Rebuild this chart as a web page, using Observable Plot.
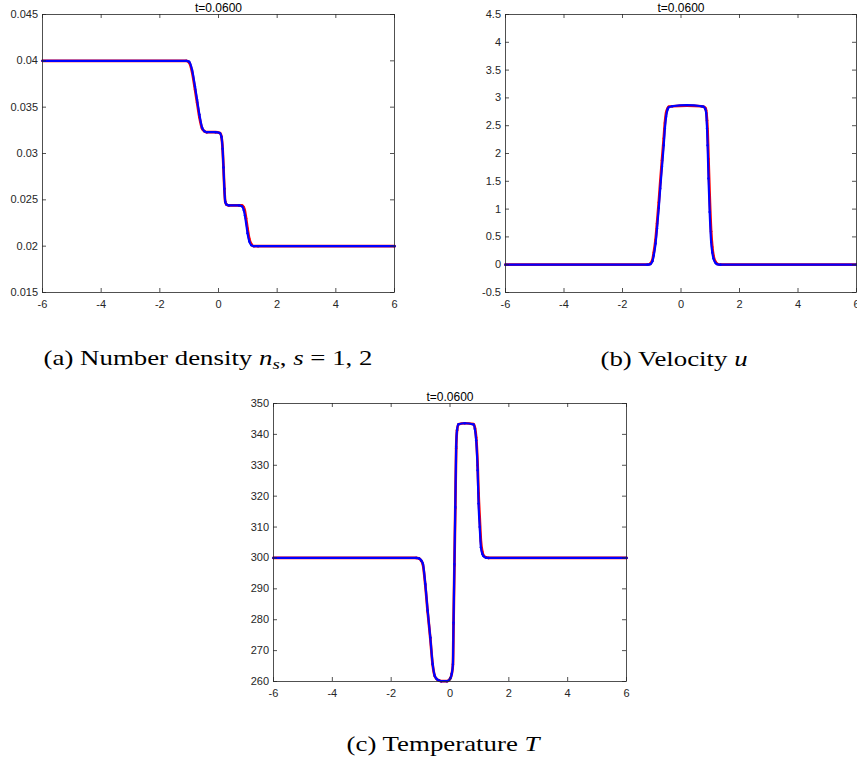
<!DOCTYPE html>
<html><head><meta charset="utf-8">
<script src="https://cdn.jsdelivr.net/npm/d3@7"></script>
<script src="https://cdn.jsdelivr.net/npm/@observablehq/plot@0.6"></script>
<style>
html,body{margin:0;padding:0;background:#fff;overflow:hidden;}
#wrap{position:relative;width:857px;height:766px;overflow:hidden;background:#fff;}
.panel{position:absolute;}
.panel svg{display:block;overflow:visible;max-width:none;}
.cap{position:absolute;font-family:"Liberation Serif","Times New Roman",serif;font-size:22px;line-height:22px;white-space:nowrap;color:#000;transform:translateX(-50%) scaleX(1.22);transform-origin:center;}
.cap sub{font-size:0.7em;vertical-align:-0.25em;line-height:0;}
</style></head><body><div id="wrap"></div>
<script>
// ---------- shared ----------
const titleText = "t=0.0600";
const xTicks = [-6, -4, -2, 0, 2, 4, 6];

// ---------- (a) number density ----------
const densX    = [-6, -1.1, -1.0, -0.9, -0.8, -0.73, -0.65, -0.56, -0.48, -0.4, -0.1, 0.05, 0.1, 0.14, 0.17, 0.2, 0.23, 0.27, 0.35, 0.7, 0.8, 0.86, 0.9, 0.94, 0.99, 1.05, 1.12, 1.2, 1.35, 6];
const densBlue = [0.0400, 0.0400, 0.0399, 0.0390, 0.0372, 0.0358, 0.0342, 0.0328, 0.0324, 0.0323, 0.0323, 0.0322, 0.0318, 0.0305, 0.0285, 0.0262, 0.0248, 0.0245, 0.0244, 0.0244, 0.0243, 0.0239, 0.0233, 0.0225, 0.0214, 0.0205, 0.0201, 0.0200, 0.0200, 0.0200];
const densRed  = [0.0400, 0.0400, 0.0398, 0.0388, 0.0369, 0.0355, 0.0339, 0.0327, 0.0324, 0.0323, 0.0323, 0.0322, 0.0318, 0.0305, 0.0285, 0.0262, 0.0248, 0.0245, 0.0244, 0.0244, 0.0244, 0.0242, 0.0238, 0.0230, 0.0219, 0.0208, 0.0202, 0.0200, 0.0200, 0.0200];
const densYTicks = [0.015, 0.02, 0.025, 0.03, 0.035, 0.04, 0.045];

// ---------- (b) velocity ----------
const velX    = [-6, -1.15, -1.05, -0.98, -0.93, -0.87, -0.82, -0.76, -0.71, -0.65, -0.59, -0.55, -0.51, -0.46, -0.42, -0.3, 0.2, 0.7, 0.77, 0.83, 0.86, 0.89, 0.91, 0.94, 0.98, 1.03, 1.07, 1.11, 1.17, 1.23, 1.35, 6];
const velBlue = [0, 0, 0.01, 0.06, 0.17, 0.38, 0.65, 1.02, 1.37, 1.76, 2.15, 2.45, 2.66, 2.79, 2.83, 2.85, 2.87, 2.85, 2.84, 2.80, 2.73, 2.45, 2.15, 1.55, 0.95, 0.41, 0.22, 0.11, 0.04, 0.01, 0, 0];
const velRed  = [0, 0, 0.02, 0.08, 0.22, 0.45, 0.74, 1.12, 1.48, 1.88, 2.27, 2.55, 2.73, 2.81, 2.84, 2.85, 2.86, 2.85, 2.84, 2.82, 2.77, 2.60, 2.40, 1.90, 1.25, 0.60, 0.32, 0.16, 0.06, 0.02, 0, 0];
const velYTicks = [-0.5, 0, 0.5, 1, 1.5, 2, 2.5, 3, 3.5, 4, 4.5];

// ---------- (c) temperature ----------
const tempX    = [-6, -1.15, -1.05, -0.98, -0.92, -0.84, -0.76, -0.67, -0.59, -0.52, -0.45, -0.39, -0.3, -0.1, 0.01, 0.06, 0.10, 0.12, 0.15, 0.18, 0.21, 0.24, 0.29, 0.5, 0.8, 0.85, 0.89, 0.94, 0.97, 1.01, 1.05, 1.10, 1.14, 1.22, 1.31, 6];
const tempBlue = [300, 300, 299.8, 299.2, 298.1, 291.6, 283.0, 274.3, 265.7, 261.9, 260.8, 260.4, 260.1, 260.1, 261.0, 262.5, 265.7, 279.0, 298.0, 316.5, 336.0, 341.5, 343.3, 343.6, 343.2, 341.5, 338.1, 328.4, 317.6, 310.0, 303.5, 301.3, 300.6, 300.1, 300, 300];
const tempRed  = [300, 300, 299.8, 299.1, 297.8, 291.2, 282.6, 274.0, 265.5, 261.8, 260.8, 260.4, 260.1, 260.1, 261.0, 262.5, 265.5, 278.5, 297.5, 316.0, 335.5, 341.3, 343.3, 343.6, 343.3, 342.0, 339.0, 330.0, 321.0, 313.0, 305.5, 302.0, 300.8, 300.2, 300, 300];
const tempYTicks = [260, 270, 280, 290, 300, 310, 320, 330, 340, 350];

const ink = "#262626";
const wrap = document.getElementById("wrap");

function panel(o) {
  const rows = o.xs.map((x, i) => ({x, b: o.blue[i], r: o.red[i]}));
  const pw = o.width - o.mL - o.mR, ph = o.height - o.mT - o.mB;
  const svg = Plot.plot({
    width: o.width, height: o.height,
    marginLeft: o.mL, marginRight: o.mR, marginTop: o.mT, marginBottom: o.mB,
    x: {domain: [-6, 6], label: null},
    y: {domain: o.yDomain, label: null},
    style: {fontFamily: "'Liberation Sans', Arial, sans-serif", fontSize: "11px", color: ink, background: "transparent", overflow: "visible"},
    marks: [
      Plot.line(rows, {x: "x", y: "r", stroke: "#ff0000", strokeWidth: 2.7, curve: "monotone-x"}),
      Plot.dot(rows, {x: "x", y: "r", r: 1.2, fill: "#ff0000"}),
      Plot.line(rows, {x: "x", y: "b", stroke: "#0000ff", strokeWidth: 2.2, curve: "monotone-x"}),
      Plot.dot(rows, {x: "x", y: "b", r: 1.2, fill: "#0000ff"}),
      Plot.frame({stroke: ink, strokeWidth: 0.8}),
      Plot.tickX(xTicks, {x: d => d, stroke: ink, strokeWidth: 0.8, insetTop: ph - 4}),
      Plot.tickX(xTicks, {x: d => d, stroke: ink, strokeWidth: 0.8, insetBottom: ph - 4}),
      Plot.tickY(o.yTicks, {y: d => d, stroke: ink, strokeWidth: 0.8, insetRight: pw - 4}),
      Plot.tickY(o.yTicks, {y: d => d, stroke: ink, strokeWidth: 0.8, insetLeft: pw - 4}),
      Plot.axisX({ticks: xTicks, tickSize: 0, tickPadding: 7.5, tickFormat: d => String(d), label: null}),
      Plot.axisY({ticks: o.yTicks, tickSize: 0, tickPadding: 4.5, tickFormat: d => String(d), label: null}),
      Plot.text([titleText], {frameAnchor: "top", lineAnchor: "bottom", dy: -3, fontSize: 12, fill: "#000"})
    ]
  });
  const div = document.createElement("div");
  div.className = "panel";
  div.style.left = o.left + "px";
  div.style.top = o.top + "px";
  div.appendChild(svg);
  wrap.appendChild(div);
}

panel({left: 0, top: 0, width: 420, height: 310, mL: 42, mR: 26, mT: 14, mB: 18,
  yDomain: [0.015, 0.045], yTicks: densYTicks, xs: densX, blue: densBlue, red: densRed});
panel({left: 430, top: 0, width: 427, height: 310, mL: 75, mR: 1, mT: 14, mB: 18,
  yDomain: [-0.5, 4.5], yTicks: velYTicks, xs: velX, blue: velBlue, red: velRed});
panel({left: 220, top: 370, width: 420, height: 330, mL: 53, mR: 14, mT: 33, mB: 19,
  yDomain: [260, 350], yTicks: tempYTicks, xs: tempX, blue: tempBlue, red: tempRed});

function caption(html, cx, baseline) {
  const d = document.createElement("div");
  d.className = "cap";
  d.innerHTML = html;
  d.style.left = cx + "px";
  d.style.top = (baseline - 18.4) + "px";
  wrap.appendChild(d);
}
caption("(a) Number density <i>n</i><sub><i>s</i></sub>, <i>s</i> = 1, 2", 208, 365);
caption("(b) Velocity <i>u</i>", 674, 366);
caption("(c) Temperature <i>T</i>", 443, 751);
</script></body></html>
